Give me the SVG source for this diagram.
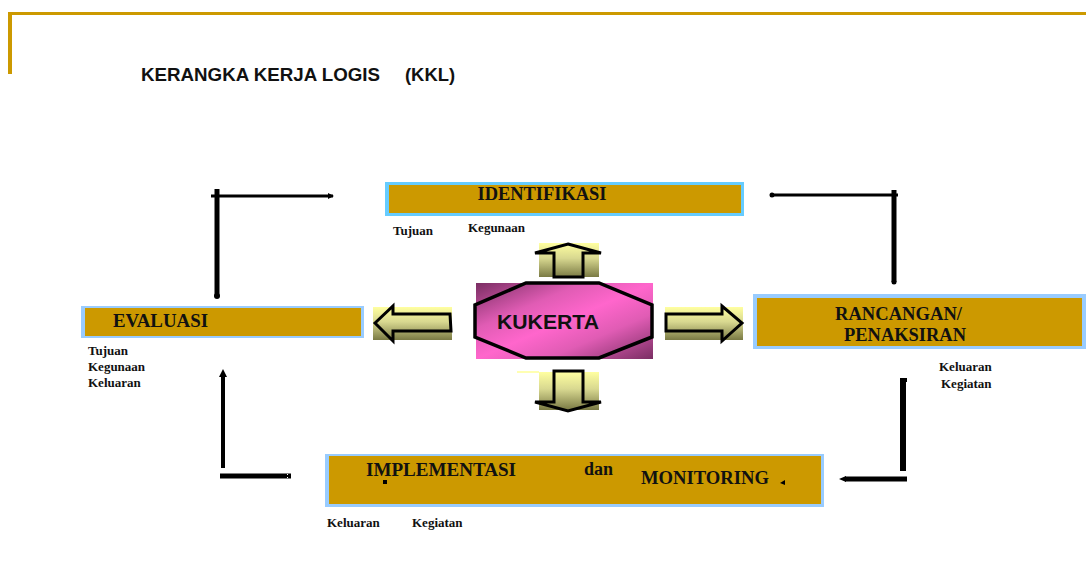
<svg xmlns="http://www.w3.org/2000/svg" width="1086" height="577" viewBox="0 0 1086 577">
<defs>
<style>
.box{fill:#CC9900}
.bl1{fill:#66CCFF}
.bl2{fill:#99CCFF}
.hd{font-family:"Liberation Serif","Times New Roman",serif;font-weight:bold;font-size:18px;fill:#111}
.sm{font-family:"Liberation Serif","Times New Roman",serif;font-weight:bold;font-size:13px;fill:#111}
.ttl{font-family:"Liberation Sans",Arial,sans-serif;font-weight:bold;font-size:18px;fill:#111}
.blk{fill:url(#yel)}
.barrow{fill:none;stroke:#000;stroke-width:3;stroke-linejoin:miter}
.ln{stroke:#000;fill:none}
</style>
<linearGradient id="yel" x1="0" y1="0" x2="0" y2="1">
<stop offset="0" stop-color="#FFFFA0"/>
<stop offset="0.45" stop-color="#D8D890"/>
<stop offset="1" stop-color="#7A7A44"/>
</linearGradient>
<linearGradient id="pink" x1="0" y1="0" x2="1" y2="1">
<stop offset="0" stop-color="#7A2E63"/>
<stop offset="0.3" stop-color="#E05CB4"/>
<stop offset="0.5" stop-color="#FF66CC"/>
<stop offset="0.7" stop-color="#E05CB4"/>
<stop offset="1" stop-color="#7A2E63"/>
</linearGradient>
<marker id="ah" markerWidth="6" markerHeight="6" refX="5" refY="3" orient="auto" markerUnits="userSpaceOnUse">
<path d="M0,0 L6,3 L0,6 Z" fill="#000"/>
</marker>
</defs>
<rect width="1086" height="577" fill="#fff"/>

<g id="frame">
<rect x="8" y="12" width="1078" height="3" fill="#CC9900"/>
<rect x="8" y="12" width="4" height="62" fill="#CC9900"/>
</g>

<g id="title">
<text class="ttl" x="141" y="81" textLength="239" lengthAdjust="spacingAndGlyphs">KERANGKA KERJA LOGIS</text>
<text class="ttl" x="405" y="81" textLength="50" lengthAdjust="spacingAndGlyphs">(KKL)</text>
</g>

<g id="identifikasi">
<rect class="bl1" x="385" y="182" width="359" height="34"/>
<rect class="box" x="389" y="185" width="352" height="28"/>
<text class="hd" x="542" y="200" text-anchor="middle" textLength="129" lengthAdjust="spacingAndGlyphs">IDENTIFIKASI</text>
<text class="sm" x="393" y="235">Tujuan</text>
<text class="sm" x="468" y="232">Kegunaan</text>
</g>

<g id="evaluasi">
<rect class="bl2" x="81" y="306" width="283" height="32"/>
<rect class="box" x="85" y="308" width="276" height="28"/>
<text class="hd" x="113" y="327" textLength="95" lengthAdjust="spacingAndGlyphs">EVALUASI</text>
<text class="sm" x="88" y="355">Tujuan</text>
<text class="sm" x="88" y="371">Kegunaan</text>
<text class="sm" x="88" y="387">Keluaran</text>
</g>

<g id="rancangan">
<rect class="bl2" x="753" y="294" width="333" height="55"/>
<rect class="box" x="757" y="298" width="325" height="48"/>
<text class="hd" x="835" y="320" textLength="127" lengthAdjust="spacingAndGlyphs">RANCANGAN/</text>
<text class="hd" x="844" y="341" textLength="122" lengthAdjust="spacingAndGlyphs">PENAKSIRAN</text>
<text class="sm" x="939" y="371">Keluaran</text>
<text class="sm" x="941" y="388">Kegiatan</text>
</g>

<g id="implementasi">
<rect class="bl2" x="325" y="454" width="499" height="53"/>
<rect class="box" x="329" y="456" width="492" height="48"/>
<text class="hd" x="366" y="476" textLength="150" lengthAdjust="spacingAndGlyphs">IMPLEMENTASI</text>
<text class="hd" x="584" y="475">dan</text>
<text class="hd" x="641" y="484" textLength="128" lengthAdjust="spacingAndGlyphs">MONITORING</text>
<rect x="383" y="480" width="4" height="4" fill="#000"/>
<path d="M780,483 L785,480 L785,485 Z" fill="#000"/>
<text class="sm" x="327" y="527">Keluaran</text>
<text class="sm" x="412" y="527">Kegiatan</text>
</g>

<g id="kukerta">
<rect x="476" y="283" width="177" height="76" fill="url(#pink)"/>
<polygon points="526,283 599,283 652,305 652,337 599,358 526,358 475,337 475,305" fill="none" stroke="#000" stroke-width="3.5"/>
<text x="497" y="329" font-family="'Liberation Sans',Arial,sans-serif" font-weight="bold" font-size="21" fill="#111" textLength="102" lengthAdjust="spacingAndGlyphs">KUKERTA</text>
</g>

<g id="block-arrows">
<g id="arrow-up">
<rect class="blk" x="539" y="243" width="60" height="34"/>
<polygon class="barrow" points="568,244 601,253 583,253 583,277 554,277 554,253 535,253"/>
</g>
<g id="arrow-down">
<rect class="blk" x="539" y="372" width="60" height="38"/>
<line x1="517" y1="372" x2="539" y2="372" stroke="#FFFF99" stroke-width="1.5"/>
<polygon class="barrow" points="554,371 583,371 583,402 601,402 568,411 535,402 554,402"/>
</g>
<g id="arrow-left">
<rect class="blk" x="373" y="307" width="79" height="33"/>
<polygon class="barrow" points="375,323 393,306 393,314 450,314 451,331 393,331 393,341"/>
</g>
<g id="arrow-right">
<rect class="blk" x="665" y="307" width="78" height="33"/>
<polygon class="barrow" points="666,314 722,314 722,306 742,323 722,341 722,331 666,331"/>
</g>
</g>

<g id="connectors">
<line class="ln" x1="217" y1="189" x2="217" y2="296" stroke-width="5"/>
<circle cx="217" cy="296" r="3" fill="#000"/>
<line class="ln" x1="211" y1="196" x2="333" y2="196" stroke-width="3" marker-end="url(#ah)"/>

<line class="ln" x1="772" y1="195" x2="898" y2="195" stroke-width="3"/>
<circle cx="772" cy="195" r="2.5" fill="#000"/>
<line class="ln" x1="894" y1="190" x2="894" y2="282" stroke-width="5"/>
<circle cx="894" cy="282" r="2.5" fill="#000"/>

<line class="ln" x1="903" y1="380" x2="903" y2="471" stroke-width="6"/>
<rect x="900" y="378" width="7" height="4" fill="#000"/>
<line class="ln" x1="845" y1="479" x2="907" y2="479" stroke-width="5"/>
<path d="M839,479 L846,476 L846,482 Z" fill="#000"/>

<line class="ln" x1="223" y1="375" x2="223" y2="468" stroke-width="4"/>
<path d="M223,369 L227,377 L219,377 Z" fill="#000"/>
<line class="ln" x1="220" y1="476" x2="291" y2="476" stroke-width="5"/>
<rect x="287" y="474" width="1" height="1" fill="#fff"/>
<rect x="287" y="477" width="1" height="1" fill="#fff"/>
</g>
</svg>
